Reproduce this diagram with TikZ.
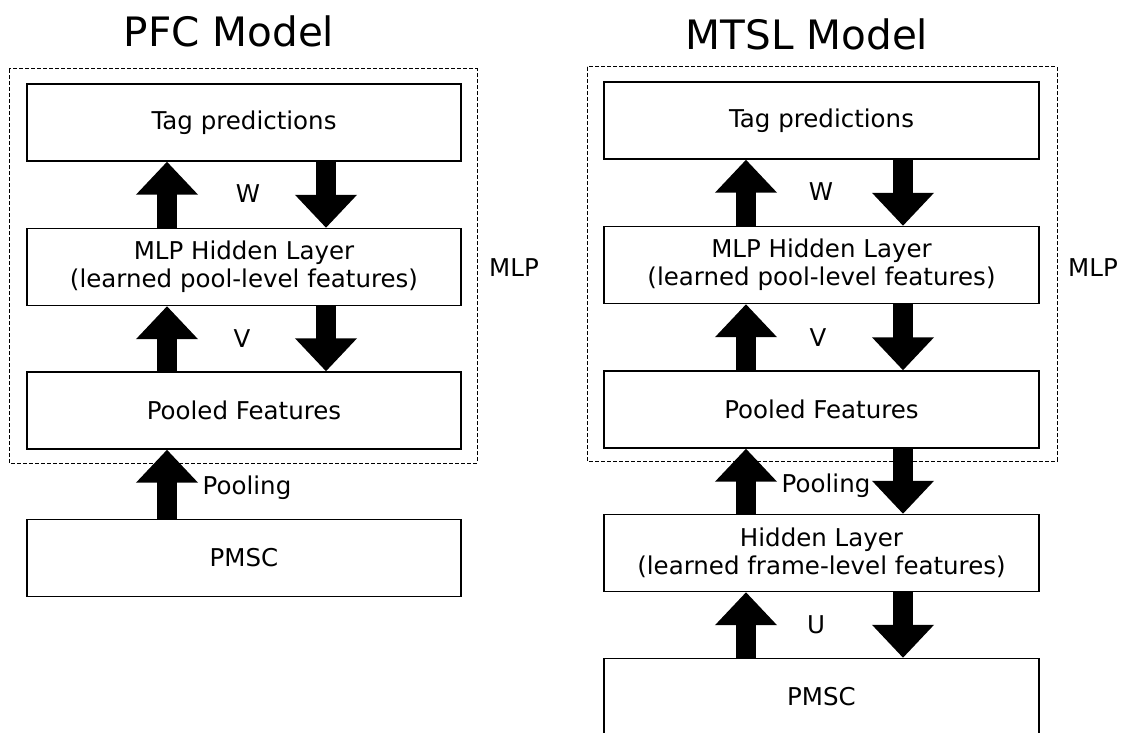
\documentclass[tikz,border=0pt]{standalone}
\usepackage{fontspec}
\setmainfont{DejaVu Sans}
\usetikzlibrary{arrows.meta}
\tikzset{
  box/.style={draw=black, line width=1.4pt, minimum width=434pt, minimum height=77pt, inner sep=0pt, align=center, font=\fontsize{24.5}{28}\selectfont},
  grp/.style={draw=black, line width=1pt, dash pattern=on 4pt off 2pt},
  blk/.style={line width=20pt, -{Triangle[width=60pt,length=33pt]}},
  lbl/.style={anchor=base, inner sep=0pt, font=\fontsize{24.5}{28}\selectfont},
  ttl/.style={anchor=base, inner sep=0pt, font=\fontsize{40.5}{48}\selectfont}
}
\begin{document}
\begin{tikzpicture}[x=1pt,y=-1pt]
\useasboundingbox (0,0) rectangle (1132,733);
% ---------- PFC model ----------
\node[ttl] (t1) at (229,47) {PFC Model};
\draw[grp] (9,69) rectangle (477,463);
\node[box] (a1) at (244,122.5) {Tag predictions};
\node[box] (a2) at (244,267) {MLP Hidden Layer\\(learned pool-level features)};
\node[box] (a3) at (244,410.5) {Pooled Features};
\node[box] (a4) at (244,558) {PMSC};
\draw[blk] ([xshift=-77pt]a2.north) -- ([xshift=-77pt]a1.south);
\draw[blk] ([xshift=82pt]a1.south) -- ([xshift=82pt]a2.north);
\draw[blk] ([xshift=-77pt]a3.north) -- ([xshift=-77pt]a2.south);
\draw[blk] ([xshift=82pt]a2.south) -- ([xshift=82pt]a3.north);
\draw[blk] ([xshift=-77pt]a4.north) -- ([xshift=-77pt]a3.south);
\node[lbl] (w1) at (248,202) {W};
\node[lbl] (v1) at (242,347) {V};
\node[lbl] (p1) at (247,494) {Pooling};
\node[lbl] (m1) at (514,276) {MLP};
% ---------- MTSL model ----------
\node[ttl] (t2) at (807,50) {MTSL Model};
\draw[grp] (587,67) rectangle (1057,461);
\node[box, minimum width=435pt] (b1) at (821.5,120.5) {Tag predictions};
\node[box, minimum width=435pt] (b2) at (821.5,265) {MLP Hidden Layer\\(learned pool-level features)};
\node[box, minimum width=435pt] (b3) at (821.5,409.5) {Pooled Features};
\node[box, minimum width=435pt] (b4) at (821.5,553) {Hidden Layer\\(learned frame-level features)};
\node[box, minimum width=435pt] (b5) at (821.5,697) {PMSC};
\draw[blk] ([xshift=-75.5pt]b2.north) -- ([xshift=-75.5pt]b1.south);
\draw[blk] ([xshift=81.5pt]b1.south) -- ([xshift=81.5pt]b2.north);
\draw[blk] ([xshift=-75.5pt]b3.north) -- ([xshift=-75.5pt]b2.south);
\draw[blk] ([xshift=81.5pt]b2.south) -- ([xshift=81.5pt]b3.north);
\draw[blk] ([xshift=-75.5pt]b4.north) -- ([xshift=-75.5pt]b3.south);
\draw[blk] ([xshift=81.5pt]b3.south) -- ([xshift=81.5pt]b4.north);
\draw[blk] ([xshift=-75.5pt]b5.north) -- ([xshift=-75.5pt]b4.south);
\draw[blk] ([xshift=81.5pt]b4.south) -- ([xshift=81.5pt]b5.north);
\node[lbl] (w2) at (821,200) {W};
\node[lbl] (v2) at (818,346) {V};
\node[lbl] (p2) at (826,492) {Pooling};
\node[lbl] (u2) at (816,633) {U};
\node[lbl] (m2) at (1093,276) {MLP};
\end{tikzpicture}
\end{document}
